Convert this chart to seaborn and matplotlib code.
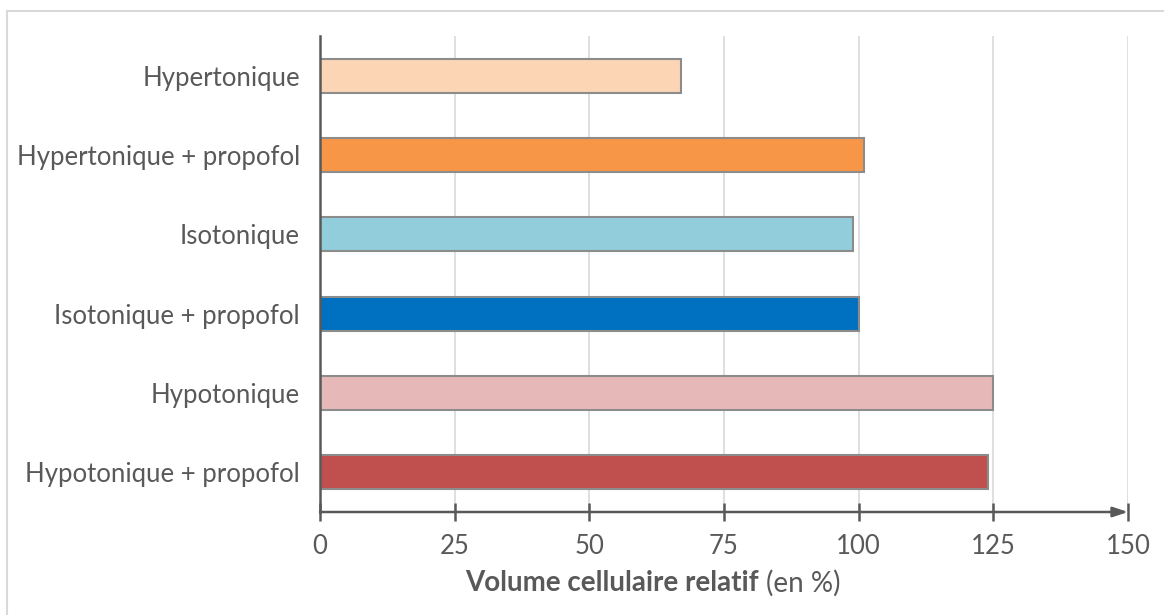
import matplotlib
matplotlib.use("Agg")
import matplotlib.pyplot as plt
import seaborn as sns
import pandas as pd
from matplotlib.patches import Rectangle

sns.set_style("white")
plt.rcParams['font.family'] = ['Lato', 'DejaVu Sans']

# data
conditions = ["Hypertonique", "Hypertonique + propofol", "Isotonique",
              "Isotonique + propofol", "Hypotonique", "Hypotonique + propofol"]
volumes = [67, 101, 99, 100, 125, 124]
bar_colors = ["#FCD5B5", "#F79646", "#92CDDC", "#0070C0", "#E6B9B8", "#C0504D"]
x_ticks = [0, 25, 50, 75, 100, 125, 150]

txt = "#595959"
df = pd.DataFrame({"cond": conditions, "vol": volumes})

fig = plt.figure(figsize=(11.64, 6.15), dpi=100)
ax = fig.add_axes([320/1164, 1 - 512/615, 808/1164, 476/615])

# light frame around the chart area
fig.patches.append(Rectangle((7/1164, -0.1), 1.2, 1 - 11/615 + 0.1,
                             transform=fig.transFigure, fill=False,
                             edgecolor="#D9D9D9", linewidth=1.5, zorder=0))

sns.barplot(data=df, x="vol", y="cond", hue="cond", palette=bar_colors,
            legend=False, width=0.43, edgecolor="#8C8C8C", linewidth=1.5,
            saturation=1, ax=ax, zorder=3)

ax.set_xlim(0, 150)
ax.set_xticks(x_ticks)
ax.grid(axis="x", color="#D9D9D9", linewidth=1.2, zorder=0)
ax.grid(axis="y", visible=False)

for s in ["top", "right", "bottom"]:
    ax.spines[s].set_visible(False)
ax.spines["left"].set_color(txt)
ax.spines["left"].set_linewidth(1.8)
ax.spines["left"].set_zorder(5)

# x axis with arrow
ax.annotate("", xy=(1, 0), xytext=(0, 0), xycoords="axes fraction",
            arrowprops=dict(arrowstyle="-|>,head_length=0.9,head_width=0.3",
                            color=txt, lw=1.8, shrinkA=0, shrinkB=0), zorder=6)

ax.tick_params(axis="x", direction="inout", length=13, width=1.8, color=txt,
               pad=9, labelsize=18.5, labelcolor=txt, bottom=True)
ax.tick_params(axis="y", length=0, pad=14.5, labelsize=18.5, labelcolor=txt)
ax.set_xlabel("")
ax.set_ylabel("")

# axis title: bold part + normal part
fig.canvas.draw()
t1 = fig.text(465/1164, 1 - 583/615, "Volume cellulaire relatif", fontsize=20,
              fontweight="bold", color=txt, ha="left", va="center")
fig.canvas.draw()
bb = t1.get_window_extent()
fig.text((bb.x1 + 7)/1164, 1 - 583/615, "(en %)", fontsize=20,
         color=txt, ha="left", va="center")

fig.savefig("out.png", dpi=100)
